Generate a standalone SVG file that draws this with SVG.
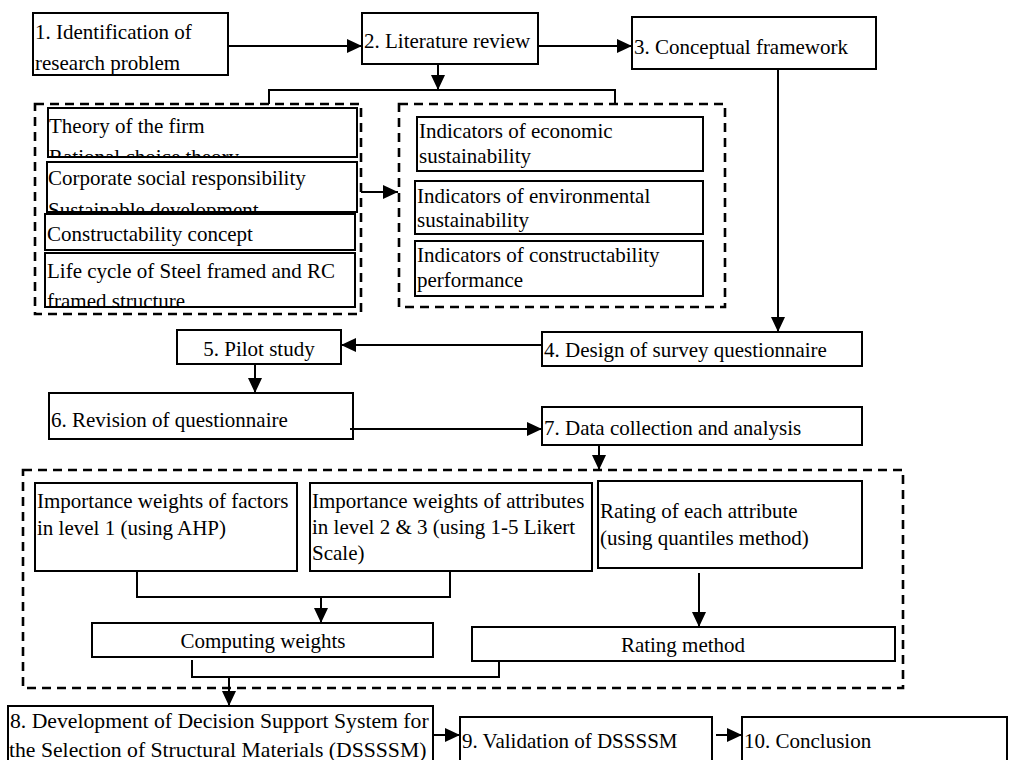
<svg xmlns="http://www.w3.org/2000/svg" width="1015" height="760" viewBox="0 0 1015 760">
<style>
text{font-family:'Liberation Serif',serif;font-size:21px;fill:#000}
.b{fill:#fff;stroke:#000;stroke-width:2}
.d{fill:none;stroke:#000;stroke-width:2.6;stroke-dasharray:9,6}
.c{fill:none;stroke:#000;stroke-width:2}
.a{marker-end:url(#ah)}
.m{text-anchor:middle}
.w{font-size:21.7px}
</style>
<defs>
<marker id="ah" markerUnits="userSpaceOnUse" markerWidth="15" markerHeight="14" refX="15" refY="7" orient="auto"><path d="M0,0 L15,7 L0,14 z" fill="#000"/></marker>
<clipPath id="cl1"><rect x="48" y="108" width="309" height="49"/></clipPath>
<clipPath id="cl2"><rect x="47" y="162" width="310" height="50"/></clipPath>
<clipPath id="cl4"><rect x="45" y="253" width="310" height="54"/></clipPath>
</defs>
<rect width="1015" height="760" fill="#fff"/>
<g font-family="Liberation Serif, serif">
<g id="containers">
<rect class="d" x="35" y="104" width="326" height="210"/>
<rect class="d" x="399" y="104" width="326" height="203"/>
<rect class="d" x="23" y="470" width="880" height="218"/>
</g>
<g id="n1"><rect class="b" x="33" y="13" width="195" height="62"/><text x="35" y="39">1. Identification of</text><text x="35" y="70">research problem</text></g>
<g id="n2"><rect class="b" x="362" y="13" width="176" height="51"/><text x="364" y="48">2. Literature review</text></g>
<g id="n3"><rect class="b" x="632" y="17" width="244" height="52"/><text x="634" y="54">3. Conceptual framework</text></g>
<g id="lt1"><rect class="b" x="48" y="108" width="309" height="49"/><g clip-path="url(#cl1)"><text x="49" y="133">Theory of the firm</text><text x="49" y="164">Rational choice theory</text></g></g>
<g id="lt2"><rect class="b" x="47" y="162" width="310" height="50"/><g clip-path="url(#cl2)"><text x="48" y="185">Corporate social responsibility</text><text x="48" y="217">Sustainable development</text></g></g>
<g id="lt3"><rect class="b" x="45" y="214" width="310" height="36"/><text x="47" y="241">Constructability concept</text></g>
<g id="lt4"><rect class="b" x="45" y="253" width="310" height="54"/><g clip-path="url(#cl4)"><text x="47" y="278">Life cycle of Steel framed and RC</text><text x="47" y="308">framed structure</text></g></g>
<g id="ind1"><rect class="b" x="417" y="117" width="286" height="54"/><text x="419" y="138">Indicators of economic</text><text x="419" y="163">sustainability</text></g>
<g id="ind2"><rect class="b" x="415" y="181" width="288" height="53"/><text x="417" y="203">Indicators of environmental</text><text x="417" y="227">sustainability</text></g>
<g id="ind3"><rect class="b" x="415" y="241" width="288" height="55"/><text x="417" y="262">Indicators of constructability</text><text x="417" y="287">performance</text></g>
<g id="n4"><rect class="b" x="542" y="332" width="320" height="34"/><text x="544" y="357">4. Design of survey questionnaire</text></g>
<g id="n5"><rect class="b" x="177" y="330" width="164" height="34"/><text class="m" x="259" y="356">5. Pilot study</text></g>
<g id="n6"><rect class="b" x="49" y="393" width="304" height="46"/><text x="51" y="427">6. Revision of questionnaire</text></g>
<g id="n7"><rect class="b" x="542" y="407" width="320" height="38"/><text x="544" y="435">7. Data collection and analysis</text></g>
<g id="w1"><rect class="b" x="35" y="483" width="262" height="88"/><text x="37" y="508">Importance weights of factors</text><text x="37" y="535">in level 1 (using AHP)</text></g>
<g id="w2"><rect class="b" x="310" y="483" width="282" height="88"/><text x="312" y="508">Importance weights of attributes</text><text x="312" y="534">in level 2 &amp; 3 (using 1-5 Likert</text><text x="312" y="560">Scale)</text></g>
<g id="r1"><rect class="b" x="598" y="481" width="264" height="87"/><text x="600" y="518">Rating of each attribute</text><text x="600" y="545">(using quantiles method)</text></g>
<g id="cw"><rect class="b" x="92" y="623" width="341" height="34"/><text class="m" x="263" y="648">Computing weights</text></g>
<g id="rm"><rect class="b" x="472" y="627" width="423" height="34"/><text class="m" x="683" y="652">Rating method</text></g>
<g id="n8"><rect class="b" x="8" y="706" width="425" height="60"/><text class="w" x="10" y="728">8. Development of Decision Support System for</text><text class="w" x="9" y="757">the Selection of Structural Materials (DSSSSM)</text></g>
<g id="n9"><rect class="b" x="460" y="717" width="252" height="50"/><text x="462" y="748">9. Validation of DSSSSM</text></g>
<g id="n10"><rect class="b" x="742" y="717" width="265" height="50"/><text x="744" y="748">10. Conclusion</text></g>
<g id="connectors">
<line class="c a" x1="228" y1="46" x2="362" y2="46"/>
<line class="c a" x1="538" y1="46" x2="632" y2="46"/>
<line class="c a" x1="438" y1="64" x2="438" y2="90"/>
<polyline class="c" points="269,104 269,90 615,90 615,104"/>
<line class="c a" x1="361" y1="192" x2="398" y2="192"/>
<line class="c a" x1="778" y1="69" x2="778" y2="332"/>
<line class="c a" x1="542" y1="345" x2="341" y2="345"/>
<line class="c a" x1="255" y1="364" x2="255" y2="393"/>
<line class="c a" x1="350" y1="429" x2="542" y2="429"/>
<line class="c a" x1="599" y1="445" x2="599" y2="470"/>
<polyline class="c" points="137,571 137,597 450,597 450,571"/>
<line class="c a" x1="321" y1="597" x2="321" y2="623"/>
<line class="c a" x1="699" y1="573" x2="699" y2="627"/>
<polyline class="c" points="192,660 192,677 499,677 499,661"/>
<line class="c a" x1="229" y1="677" x2="229" y2="706"/>
<line class="c a" x1="433" y1="735" x2="460" y2="735"/>
<line class="c a" x1="716" y1="735" x2="742" y2="735"/>
</g>
</g>
</svg>
